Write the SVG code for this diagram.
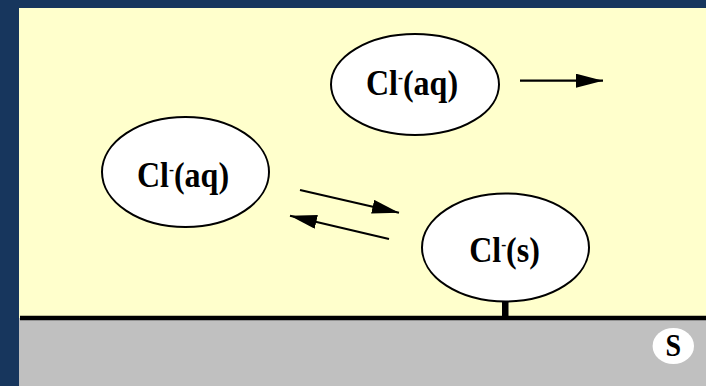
<svg xmlns="http://www.w3.org/2000/svg" width="706" height="386" viewBox="0 0 706 386">
<defs>
<style>
.node ellipse{fill:#ffffff;stroke:#000000;stroke-width:2}
.lbl{font-family:"Liberation Serif","Times New Roman",serif;font-weight:bold;font-size:32px;fill:#000000}
.sup{font-size:15px}
.conn line{stroke:#000000;stroke-width:2.2;fill:none}
</style>
<marker id="ah" viewBox="0 0 27 14" refX="27" refY="7" markerWidth="27" markerHeight="14" markerUnits="userSpaceOnUse" orient="auto">
<path d="M0,0 L27,7 L0,14 Z" fill="#000000"/>
</marker>
</defs>
<rect x="0" y="0" width="706" height="386" fill="#17365d"/>
<rect x="19" y="8" width="687" height="310" fill="#ffffcc"/>
<rect x="19" y="318" width="687" height="68" fill="#c0c0c0"/>
<line x1="20" y1="318" x2="706" y2="318" stroke="#000000" stroke-width="4.5"/>
<rect x="502" y="300" width="6.5" height="18" fill="#000000"/>
<g id="aq-top" class="node">
<ellipse cx="415" cy="84.5" rx="84" ry="50.5"/>
<text class="lbl" transform="translate(412,95) scale(1,1.1)" text-anchor="middle">Cl<tspan class="sup" dy="-11">-</tspan><tspan dy="11">(aq)</tspan></text>
</g>
<g id="aq-left" class="node">
<ellipse cx="185.5" cy="172" rx="83.5" ry="55"/>
<text class="lbl" transform="translate(183,187) scale(1,1.1)" text-anchor="middle">Cl<tspan class="sup" dy="-11">-</tspan><tspan dy="11">(aq)</tspan></text>
</g>
<g id="s-surface" class="node">
<ellipse cx="505.5" cy="247.5" rx="83.5" ry="54"/>
<text class="lbl" transform="translate(504.5,262) scale(1,1.1)" text-anchor="middle">Cl<tspan class="sup" dy="-11">-</tspan><tspan dy="11">(s)</tspan></text>
</g>
<g id="S" class="node">
<ellipse cx="673.3" cy="346" rx="20.7" ry="18" style="stroke:none"/>
<text class="lbl" transform="translate(673.3,355.5) scale(1,1.1)" text-anchor="middle" style="font-size:28px">S</text>
</g>
<g id="connectors" class="conn">
<line x1="520" y1="80.7" x2="603" y2="80.7" marker-end="url(#ah)"/>
<line x1="300" y1="190" x2="399" y2="212.7" marker-end="url(#ah)"/>
<line x1="389" y1="239" x2="290" y2="215.7" marker-end="url(#ah)"/>
</g>
</svg>
